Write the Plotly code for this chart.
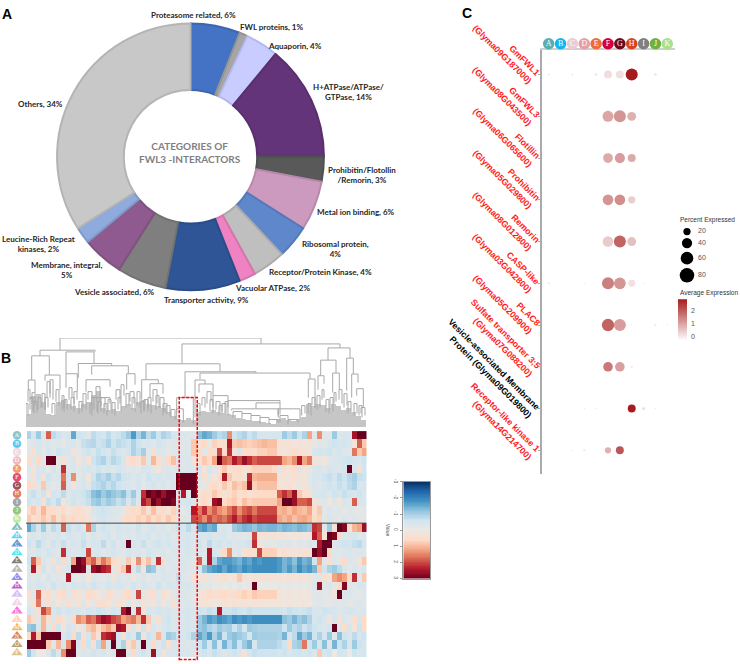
import numpy as np
import plotly.graph_objects as go

# ---------- Panel A ----------
pie_labels = ["Proteasome related, 6%", "FWL proteins, 1%", "Aquaporin, 4%", "H+ATPase/ATPase/<br>GTPase, 14%",
              "Prohibitin/Flotollin<br>/Remorin, 3%", "Metal ion binding, 6%", "Ribosomal protein,<br>4%",
              "Receptor/Protein Kinase, 4%", "Vacuolar ATPase, 2%", "Transporter activity, 9%",
              "Vesicle associated, 6%", "Membrane, integral,<br>5%", "Leucine-Rich Repeat<br>kinases, 2%", "Others, 34%"]
pie_values = [6, 1, 4, 14, 3, 6, 4, 4, 2, 9, 6, 5, 2, 34]
pie_colors = ["#4472c4", "#a5a5a5", "#c9ccff", "#633479", "#595959", "#cc99bf", "#5f87cc", "#bfbfbf", "#ee82c2",
              "#2f5597", "#7f7f7f", "#8e5a8f", "#8faadc", "#c8c8c8"]
pie_edges = ["#3d66b0", "#949494", "#b5b8ee", "#5a2f6e", "#505050", "#b888ac", "#5579b8", "#ababab", "#d675ae",
             "#2a4d88", "#727272", "#805181", "#809ac6", "#b4b4b4"]
pie_label_px = [(193, 12), (271, 24), (295, 43), (348, 90), (362, 173), (356, 210), (335, 247), (320, 271),
                (272, 287), (206, 299), (114, 291), (66, 269), (38, 242), (40, 102)]

# ---------- Panel B ----------
heat_rows = [
 [-12,-6,-14,-4,18,-10,-8,-4,-6,-20, -8,-6,-4,-10,-8,-6,-10,-6,-8,-10, -14,-22,-12,-18,-10,-14,-8,-12,-10,-6, -5,-5,-4,-4,-16,-20,-18,-14,-10,-12, 14,-8,-10,-12,-8,-10,-6,-6,-6,-6, -6,-14,-10,-14,-8,-12,12,-3,14,-4, -3,-14,-4,-6,-5,25,30,30],
 [-2,-4,-6,-3,-5,-3,-4,-2,-5,-6, -3,-9,-10,-11,-8,-9,-12,-8,-10,-9, -8,-12,-8,-5,-6,-3,-7,-5,-3,-4, -4,-4,-4,8,4,6,-2,7,5,5, 24,8,9,8,7,8,9,10,9,9, 3,3,4,2,3,2,3,-2,-4,-3, -6,-8,-6,-7,-5,2,18,8],
 [-3,4,-6,-2,-7,-3,-8,-6,-5,3, -2,-6,-8,-4,-9,-7,-5,-9,-6,-4, -7,-12,-9,-13,-3,4,-5,-4,-2,-3, -4,-4,-4,8,6,-3,5,4,20,5, 22,3,-6,5,6,5,7,7,8,8, 3,2,3,5,3,3,2,-6,-7,-6, -8,-5,-7,-4,-3,16,8,12],
 [5,-4,6,-3,30,30,-2,4,-3,-5, 2,-4,3,-8,-10,-12,-8,-11,-9,-6, 4,6,3,8,-3,10,5,-4,6,9, -5,-4,-5,3,4,8,6,12,30,18, 16,24,20,26,22,18,20,20,20,20, 20,12,10,14,24,12,16,3,-2,2, -3,-5,-6,-7,-8,-6,-5,-8],
 [-4,2,-5,-6,-2,-7,-3,22,-4,-6, -3,-5,-7,-4,-8,-5,-6,-4,-7,-5, -3,-4,-2,-6,-5,-3,2,-4,-5,-3, -5,-4,-5,-4,-5,2,-6,-3,4,8, 3,5,6,3,5,7,7,7,7,6, -3,4,3,5,-4,3,-2,-5,-6,-4, -7,-5,-4,-6,30,-5,4,-7],
 [-2,3,-6,4,-8,-4,-5,16,-6,14, -3,-6,2,-8,-12,-10,-13,-9,-11,-8, -7,-4,-6,-3,-8,-5,-7,-4,-6,-5, 30,30,30,30,-4,4,-3,2,6,24, 8,4,5,3,22,10,11,11,11,11, 3,3,2,4,3,2,-3,-6,-5,-8, -9,-7,-10,-8,-11,-13,-9,-8],
 [6,4,-3,8,-5,-2,-3,18,-5,3, -4,-7,-3,-9,-10,-12,-9,-11,-8,-6, -5,-3,-7,-2,-5,-7,-4,-6,-3,-5, 30,30,30,30,-3,-2,4,6,3,8, 5,9,7,9,26,7,9,9,9,9, 2,3,4,2,-2,3,-3,-5,-4,-6, -8,-6,-9,-7,-10,-12,-5,-6],
 [-6,-9,-4,-8,3,-7,-5,-10,-4,-7, -6,-8,-10,-16,-18,-14,-17,-15,-13,-16, -9,-14,-6,22,30,28,30,26,30,30, -5,24,-3,30,3,5,4,8,6,3, 5,7,4,6,3,5,6,6,6,6, 18,22,18,26,8,5,4,-5,-6,-7, -4,-8,-6,-9,-7,-6,-8,-5],
 [-8,-5,-7,4,-9,-6,-10,2,-4,-8, -5,-7,-9,-13,-15,-11,-14,-12,-9,-11, -6,-10,-4,24,20,30,26,30,30,28, -6,-5,-7,-5,4,6,3,26,28,6, 7,8,5,9,7,8,8,8,8,8, 12,30,30,26,18,18,20,3,-3,-4, 2,-4,3,-5,-4,18,-6,-5],
 [6,8,4,10,6,5,3,6,2,4, 5,3,2,-5,-7,-8,-6,-5,-4,-2, 4,6,5,8,4,9,5,6,3,7, -3,-2,-4,24,16,22,14,18,14,12, 16,20,14,18,20,16,20,20,20,20, 10,11,9,12,10,9,12,4,8,-3, -5,-3,-4,-2,-4,-3,-2,-3],
 [8,4,6,8,5,9,4,7,5,6, 4,5,3,-3,-6,-7,-5,-4,-3,4, 6,5,7,6,8,5,7,4,8,6, -3,-4,-3,20,18,14,20,16,18,16, 20,24,18,22,24,20,22,22,22,22, 12,10,12,9,11,12,10,6,7,-3, -6,-4,-2,-5,-3,-4,-3,-2],
 [-20,-12,-6,-14,-4,-10,-7,18,-9,-5, -8,-4,16,-12,-5,-8,-6,-4,-7,-5, -6,-4,-8,-3,-5,-7,-4,-6,-3,-5, -8,-6,-10,-7,-20,-22,-18,-20,-5,-6, -4,-14,-16,-18,-17,-15,-18,-17,-18,-18, -16,-18,-17,-16,-18,-17,-15,22,20,-4, -14,3,30,28,4,10,12,26],
 [-4,-6,-3,-7,-5,-4,-6,-3,-7,-5, -4,-8,-3,-6,-4,-5,-7,-3,-6,-4, -5,-3,-6,-4,-7,-3,-5,-4,-6,-3, -5,-5,-6,-4,-6,-5,-7,-4,-5,-6, -3,-4,-3,-2,-3,20,2,3,3,3, 2,2,1,2,2,1,2,24,18,3, 30,28,5,-4,-5,-6,-3,-5],
 [-8,-4,-10,-6,-3,-8,-5,-9,-4,-7, -5,-9,-4,-7,-6,-10,-5,-8,-4,-6, 30,-7,-5,-9,-4,-6,-8,-5,-7,-4, -5,-5,-6,-5,-8,-4,-10,-6,-8,-5, -7,-4,-5,-6,-8,22,2,-2,-3,-2, -4,-3,-5,-2,-4,-3,-6,-3,24,30, 30,-4,-6,-8,-7,-9,-10,-6],
 [-5,-3,-6,-4,-7,-5,-3,22,-6,-4, -5,-7,20,-4,-6,-3,-5,-7,-4,-3, -6,-4,-5,-3,-7,-5,-4,-6,-3,-5, -6,-5,-6,-4,-5,-3,24,-6,-4,6, 14,-3,-5,3,5,4,20,7,7,7, 2,4,3,2,3,4,3,30,26,30, 6,-4,-3,-5,-6,-4,-5,-4],
 [-8,18,8,-5,-3,4,-6,6,-4,12, 30,26,14,18,10,16,12,6,4,-3, 8,2,14,5,9,-4,22,4,-5,-3, -4,-5,-4,-3,18,-4,24,-12,-20,-22, -22,-20,-18,-22,-20,-24,-22,-24,-24,-24, -22,-18,-20,-16,-22,-18,-20,-8,12,-3, 4,-4,-3,6,-5,-4,3,8],
 [-4,24,4,-8,-2,-6,3,-4,-6,30, 30,28,-4,26,28,24,22,-3,4,8, 22,-4,-10,3,-16,-14,-4,-6,-3,-5, -4,-5,-4,-3,-6,-16,-20,-22,-24,-20, -24,-22,-20,-24,-22,-24,-24,-24,-24,-24, -22,-18,-22,-18,-24,-20,-22,-18,8,-8, -12,-14,-10,-6,-3,-5,-4,-6],
 [-4,-3,-5,-2,-6,-3,-4,-2,24,-3, -2,-4,2,-5,-3,-2,-4,3,-5,-3, -4,2,-3,-5,-2,-4,-3,-6,-5,-3, -9,-4,-3,4,2,3,-2,2,3,4, 2,3,8,3,2,3,3,3,3,3, 3,2,3,2,3,2,3,-3,-4,4, 2,12,14,12,6,22,-3,8],
 [-6,-4,-7,-5,-3,-8,-4,-6,-3,-7, -5,-6,-4,-8,-5,-3,-7,-4,-6,-5, -3,-7,-4,-6,-5,-3,-8,-4,-6,-5, -6,-5,-6,-4,-4,-2,-3,-1,-2,-1, -2,-1,-3,-1,-2,30,-1,-1,-1,-1, -2,-1,-2,-1,-2,-1,-2,-4,26,-3, -5,-2,6,28,-4,-3,-6,-5],
 [4,-3,18,3,5,-2,4,6,-3,5, 3,-2,6,4,2,-3,5,3,-2,4, 6,-3,20,-2,3,5,-3,4,2,-3, -5,-5,-4,-3,2,4,6,4,5,6, 4,5,6,7,6,8,7,7,7,7, 2,1,2,1,2,1,2,-3,-4,-2, -3,2,30,-4,-5,-3,-2,-4],
 [-2,3,16,-3,4,-4,2,-3,4,-2, 3,-4,2,-3,4,5,3,-2,4,3, -4,2,-3,4,-2,3,-4,2,-3,4, -4,-4,-5,-3,2,3,2,1,2,3, 2,3,2,3,2,3,2,2,2,2, 2,1,2,1,1,2,1,-3,-4,-3, -2,-4,-3,-4,-2,-3,-5,-3],
 [-6,-4,4,20,14,-5,-8,-4,-7,-5, -6,-4,-7,-5,-8,-6,-4,-7,-5,24, 30,-4,22,3,-6,-4,-7,-5,-6,-4, -5,-5,-6,-5,-8,-7,-9,-8,24,-8, -8,-9,-8,-7,-9,-8,-8,-8,-8,-8, -8,-7,-9,-8,-7,-8,-9,-6,-5,-8, -7,-6,-4,-5,-7,-6,-4,-5],
 [8,5,-3,10,4,-5,6,3,-4,6, 14,12,18,16,22,26,24,20,18,12, 14,16,10,22,8,-3,4,-6,-8,-4, -5,-5,-6,-5,-14,-18,-22,-20,-24,-22, -20,-24,-22,-24,-22,-24,-24,-24,-24,-24, -24,-16,-14,-18,-14,-16,-12,-6,-8,-5, 3,-6,4,-5,-3,4,-6,6],
 [-14,-16,-5,10,-4,6,-8,3,-6,-4, 2,-3,8,10,6,9,12,8,26,24, 4,-5,3,-8,4,-6,-3,-5,-7,-4, -6,-5,-6,-5,-14,-16,-12,-10,-14,-12, -13,-8,-12,-6,-14,-13,-12,-12,-12,-12, -12,-8,-14,-10,-12,-8,-10,-8,-6,-5, -7,30,-4,5,-6,3,-8,6],
 [6,24,8,30,30,30,30,-5,-8,6, -10,4,-6,8,3,22,24,26,-6,4, -8,-4,-14,3,-8,-5,10,-6,-14,-12, -8,-5,-8,-12,-20,-16,-22,-12,-18,-8, -14,-16,-14,-12,-6,-14,-13,-13,-13,-13, -12,-18,-6,-10,-20,-14,-18,-8,-12,-6, -14,-4,-16,-8,-5,-10,-6,-8],
 [30,30,30,30,8,-4,10,-6,14,28, -5,6,-8,4,-10,12,-5,30,-6,-12, 4,8,-4,30,-5,6,-3,-8,4,-6, -5,-5,-4,-6,-8,-14,-6,-16,-5,-18, -10,-16,-8,-14,-18,-6,-12,-12,-12,-12, -10,-8,6,-12,-14,16,-8,-14,-6,-16, -4,-18,-8,-12,-5,-14,-8,-6],
 [-14,-8,0,0,-4,-10,-5,14,30,30, -3,-6,-4,-8,-5,-7,-3,-6,30,30, -4,6,-5,-8,-4,26,-7,4,-6,-5, -6,-5,-6,-4,-6,-8,-5,-9,-7,-4, -6,-8,-5,3,-7,-9,-8,-8,-8,-8, -6,-8,-5,-7,-8,-6,-8,-5,8,-6, -8,0,-7,-6,0,-8,-5,-7],
]
bad = [(i, len(r)) for i, r in enumerate(heat_rows) if len(r) != 68]
assert not bad, bad

row_letters = list("ABCDEFGHIJK") + list("ABCDEFGHIJKLMNOP")
row_colors = ["#5aaeb0", "#12b5f0", "#e8cdd5", "#e59ea6", "#ec6c3b", "#d5003a", "#6b0a1e", "#d9431e", "#7f7f7f", "#6fb043", "#a9e08a",
              "#4a9fa5", "#1fc0f0", "#1f6fc0", "#00e0f0", "#444444", "#999999", "#6a5cf0", "#a020b0", "#c8a8f0", "#e8c8e0",
              "#ff33cc", "#f8c8a0", "#f39a1a", "#c0541a", "#9c7a3c", "#d0a860"]
row_symbols = ["circle"] * 11 + ["triangle-up"] * 16

leaf_heights = [14, 32, 34, 26, 14, 13, 26, 28, 24, 22, 20, 24, 26, 33, 37, 20, 18, 19, 17, 22, 24, 20, 26, 28, 24, 23,
                22, 20, 16, 12, 9, 8, 10, 8, 16, 17, 16, 18, 16, 15, 14, 13, 10, 9, 8, 7, 6, 5, 4, 3, 9, 10, 8, 6, 9, 11,
                24, 22, 24, 23, 20, 24, 22, 18, 20, 16, 12, 8]
# dendrogram links: left leaf, right leaf, top height, height of left child, height of right child
link_left =  [34, 156, 120, 159, 174, 169, 173, 14, 5.7, 40, 52.3, 65.7, 2.3, 19, 24, 40, 60, 100.7, 65.7, 115.7, 124, 150.7, 150.7,
              294.7, 302, 320.7, 292, 306.7, 325.7, 330.7, 282.3, 187, 202, 230, 205.7, 207, 216, 225, 234, 243, 252, 254, 262, 275.7,
              2, 6, 12, 21, 30, 43, 48, 62, 70, 75, 90, 95, 104, 118, 127, 134, 140, 145, 176, 181, 190, 196, 286, 296, 308, 313, 335,
              0, 4, 8, 16, 19, 26, 36, 38, 45, 53, 57, 64, 68, 72, 78, 82, 86, 92, 100, 106, 111, 115, 122, 130, 137, 171, 184, 193, 199, 282, 291, 300, 304, 318, 322, 328, 333]
link_right = [235, 314, 194, 230, 284, 179, 187, 69, 23.3, 68, 85.7, 102.3, 9, 34, 27, 51.3, 84, 109, 84, 132.3, 137, 167.3, 157.3,
              310, 324, 327.3, 298, 313.3, 332, 337.3, 289, 202, 254, 254, 252.3, 216, 225, 234, 243, 252, 274, 262, 272, 279,
              4, 9, 15, 24, 33, 46, 51, 66, 74, 79, 94, 98, 108, 122, 131, 138, 144, 149, 179, 185, 194, 200, 289, 298, 310, 316, 339,
              2, 7, 11, 19, 22, 29, 38, 41, 48, 56, 60, 66, 71, 75, 81, 85, 89, 95, 103, 109, 114, 118, 125, 133, 141, 174, 187, 196, 202, 285, 294, 303, 307, 321, 325, 331, 336]
link_top =   [90, 84, 64, 56, 54.7, 47.7, 43.7, 77.7, 72, 76, 64.3, 62, 47.7, 52.7, 48, 54, 48, 54, 30, 48, 44, 30, 18.7,
              67.7, 80, 69.7, 52, 54.7, 53.7, 39, 48.7, 32, 27, 24.7, 18.7, 16, 14, 12, 10, 8, 18.7, 12, 8, 22,
              38, 35, 30, 46, 38, 40, 36, 36, 41, 30, 38, 43, 36, 28, 38, 30, 22, 18, 30, 36, 26, 24, 30, 38, 35, 38, 20,
              24, 30, 26, 34, 30, 24, 32, 28, 30, 26, 34, 24, 30, 26, 24, 28, 25, 30, 34, 30, 36, 26, 30, 32, 24, 24, 28, 22, 26, 24, 32, 28, 30, 34, 26, 24, 22]
link_lh =    [78, 64, 48, 30, 48.7, 10, 35, 72, 47.7, 54, 50, 53, 38, 47, 30, 40, 36, 38, 22, 28, 30, 15, 8,
              52, 67.7, 37, 38, 35, 30, 32, 30, 20, 20, 19, 17, 10, 8, 6, 4, 3, 12, 5, 3, 12,
              26, 24, 18, 30, 26, 28, 24, 28, 30, 22, 28, 30, 26, 18, 26, 20, 14, 10, 22, 24, 18, 16, 22, 28, 24, 28, 14,
              14, 18, 14, 20, 18, 14, 18, 16, 18, 14, 20, 14, 18, 14, 14, 16, 14, 18, 20, 18, 22, 14, 16, 18, 12, 14, 16, 12, 14, 14, 18, 16, 18, 20, 14, 12, 12]
link_rh =    [84, 80, 56, 54.7, 48.7, 43.7, 32, 76, 52.7, 64.3, 62, 54, 35, 38, 28, 36, 41, 43, 24, 44, 34, 3, 5,
              54.7, 69.7, 53.7, 44, 38, 45, 20, 20, 26, 24.7, 13, 10, 14, 12, 10, 8, 5, 8, 8, 5, 14,
              28, 22, 20, 34, 22, 30, 28, 30, 26, 20, 24, 32, 24, 20, 24, 16, 12, 8, 20, 26, 16, 14, 20, 30, 26, 24, 12,
              12, 16, 15, 18, 20, 12, 20, 18, 16, 16, 18, 12, 16, 16, 12, 18, 12, 16, 22, 16, 20, 16, 14, 20, 14, 12, 14, 14, 12, 12, 20, 14, 16, 22, 16, 14, 10]

# ---------- Panel C ----------
dot_letters = list("ABCDEFGHIJK")
dot_colors = ["#5aaeb0", "#12b5f0", "#e8cdd5", "#e59ea6", "#ec6c3b", "#d5003a", "#6b0a1e", "#d9431e", "#7f7f7f", "#6fb043", "#a9e08a"]
gene_labels = ["GmFWL1<br>(Glyma09G187000)", "GmFWL3<br>(Glyma08G043500)", "Flotillin<br>(Glyma06G065600)",
               "Prohibitin<br>(Glyma05G029800)", "Remorin<br>(Glyma08G012800)", "CASP-like<br>(Glyma03G042800)",
               "PLAC8<br>(Glyma05G209900)", "Sulfate transporter 3;5<br>(Glyma07G088200)",
               "Vesicle-associated Membrane<br>Protein (Glyma09G019800)", "Receptor-like kinase 1<br>(Glyma14G214700)"]
gene_colors = ["#ff1a1a"] * 8 + ["#000000", "#ff1a1a"]
pct_matrix = [
 [2, 0, 2, 0, 3, 24, 24, 55, 0, 3, 0],
 [0, 0, 0, 0, 0, 46, 55, 30, 0, 0, 0],
 [0, 0, 0, 0, 0, 36, 39, 24, 0, 0, 0],
 [0, 0, 0, 0, 0, 43, 43, 20, 0, 0, 0],
 [0, 0, 0, 0, 0, 42, 55, 30, 0, 0, 0],
 [2, 0, 0, 1, 0, 55, 52, 18, 1, 0, 0],
 [0, 0, 0, 0, 0, 58, 55, 1, 0, 2, 1],
 [0, 0, 0, 0, 0, 35, 35, 2, 0, 0, 0],
 [0, 0, 0, 1, 1, 0, 0, 24, 4, 1, 0],
 [0, 0, 1, 2, 0, 15, 24, 0, 0, 0, 0],
]
avg_matrix = [
 [.02, 0, .02, 0, .08, .18, .15, 2.9, 0, .1, 0],
 [0, 0, 0, 0, 0, .95, 1.2, .8, 0, 0, 0],
 [0, 0, 0, 0, 0, .9, 1.1, .9, 0, 0, 0],
 [0, 0, 0, 0, 0, 1.2, 1.3, .4, 0, 0, 0],
 [0, 0, 0, 0, 0, .45, 1.9, .6, 0, 0, 0],
 [.03, 0, 0, .02, 0, 1.5, 1.2, .12, .02, 0, 0],
 [0, 0, 0, 0, 0, 1.9, 1.1, .03, 0, .05, .03],
 [0, 0, 0, 0, 0, 1.6, 1.05, .05, 0, 0, 0],
 [0, 0, 0, .03, .03, 0, 0, 2.9, .15, .05, 0],
 [0, 0, .03, .05, 0, .8, 2.1, 0, 0, 0, 0],
]
legend_percent = [20, 40, 60, 80]
legend_rows = [0, 11.5, 26.7, 44]

W, H = 740, 664
def dx(a, b): return [a / W, b / W]
def dy(top, bottom): return [1 - bottom / H, 1 - top / H]
def blank(**kw):
    d = dict(visible=True, showgrid=False, zeroline=False, showticklabels=False, ticks="", showline=False, fixedrange=True)
    d.update(kw)
    return d

SANS = "Liberation Sans"
LABEL = "Lato"
RDBU = [[0, "#053061"], [.1, "#2166ac"], [.2, "#4393c3"], [.3, "#92c5de"], [.4, "#d1e5f0"], [.5, "#ece8e4"],
        [.6, "#fddbc7"], [.7, "#f4a582"], [.8, "#d6604d"], [.9, "#b2182b"], [1, "#67001f"]]
DOTS = [[0, "#ffffff"], [1, "#a51c1c"]]

fig = go.Figure()
fig.add_trace(go.Pie(values=pie_values, labels=pie_labels, sort=False, direction="clockwise", rotation=0, hole=0.5,
                     textinfo="none", hoverinfo="skip", showlegend=False, domain=dict(x=dx(56, 325), y=dy(20.5, 289)),
                     marker=dict(colors=pie_colors, line=dict(color=pie_edges, width=2))))

# dendrogram
lx, ly = [], []
for a, b, t, hl, hr in zip(link_left, link_right, link_top, link_lh, link_rh):
    lx += [a, a, b, b, None]
    ly += [hl, t, t, hr, None]
fig.add_trace(go.Bar(x=[2.5 + 5 * i for i in range(len(leaf_heights))], y=leaf_heights, width=5,
                     marker=dict(color="#c6c6c6", line=dict(width=0)), xaxis="x", yaxis="y", hoverinfo="skip", showlegend=False))
fig.add_trace(go.Scatter(x=lx, y=ly, mode="lines", line=dict(color="#a8a8a8", width=1), xaxis="x", yaxis="y",
                         hoverinfo="skip", showlegend=False))

# heatmap
raw = np.array(heat_rows) / 10
z = np.where(raw < 0, raw * 0.78, raw).tolist()
fig.add_trace(go.Heatmap(z=z, zmin=-3, zmax=3, colorscale=RDBU, showscale=False, xaxis="x2", yaxis="y2", hoverinfo="skip"))

# row markers
fig.add_trace(go.Scatter(x=[0] * 27, y=list(range(27)), mode="markers+text", text=row_letters, textposition="middle center",
                         textfont=dict(family="Liberation Serif", size=6, color="white"),
                         marker=dict(symbol=row_symbols, color=row_colors, size=[8.5] * 11 + [10] * 16, line=dict(width=0)),
                         xaxis="x3", yaxis="y3", hoverinfo="skip", showlegend=False))

# value colour bar
vals = np.linspace(-3, 3, 121)
fig.add_trace(go.Heatmap(z=[[v] for v in vals], y=vals, x=[0], zmin=-3, zmax=3, colorscale=RDBU, showscale=False,
                         xaxis="x4", yaxis="y4", hoverinfo="skip"))

# dot plot
sx, sy, sp, sa = [], [], [], []
for g, pr, ar in zip(gene_labels, pct_matrix, avg_matrix):
    for l, p, a in zip(dot_letters, pr, ar):
        if p > 0:
            sx.append(l); sy.append(g); sp.append(p); sa.append(a)
SIZEREF = 0.76
fig.add_trace(go.Scatter(x=sx, y=sy, mode="markers", xaxis="x5", yaxis="y5", hoverinfo="skip", showlegend=False,
                         marker=dict(size=sp, sizemode="area", sizeref=SIZEREF, sizemin=0, color=sa, cmin=-0.3, cmax=2.9,
                                     colorscale=DOTS, opacity=1, line=dict(width=0))))
# header circles
fig.add_trace(go.Scatter(x=dot_letters, y=[0] * 11, mode="markers+text", text=dot_letters, textposition="middle center",
                         textfont=dict(family="Liberation Serif", size=8, color="white"),
                         marker=dict(color=dot_colors, size=11.5, line=dict(width=0)), cliponaxis=False,
                         xaxis="x6", yaxis="y6", hoverinfo="skip", showlegend=False))
# size legend
fig.add_trace(go.Scatter(x=[0] * 4, y=legend_rows, mode="markers", xaxis="x7", yaxis="y7", hoverinfo="skip", showlegend=False,
                         marker=dict(size=legend_percent, sizemode="area", sizeref=SIZEREF, color="black", opacity=1, line=dict(width=0))))
fig.add_trace(go.Scatter(x=[11] * 4, y=legend_rows, mode="text", text=[str(p) for p in legend_percent], textposition="middle right",
                         textfont=dict(family=SANS, size=7, color="#555555"), xaxis="x7", yaxis="y7", hoverinfo="skip", showlegend=False))
# average expression colour bar
avals = np.linspace(-0.3, 2.9, 60)
fig.add_trace(go.Heatmap(z=[[v] for v in avals], y=avals, x=[0], zmin=-0.3, zmax=2.9, colorscale=DOTS, showscale=False,
                         xaxis="x8", yaxis="y8", hoverinfo="skip"))

annots = []
def note(px, py, text, size=8, color="#1a1a1a", family=LABEL, bold=False, xanchor="center", yanchor="middle", **kw):
    annots.append(dict(xref="paper", yref="paper", x=px / W, y=1 - py / H, text=f"<b>{text}</b>" if bold else text, showarrow=False,
                       xanchor=xanchor, yanchor=yanchor, font=dict(family=family, size=size, color=color), **kw))
for t, (px, py) in zip(pie_labels, pie_label_px):
    note(px, py, t, size=8, bold=True, align="center", color="#262626")
note(190, 150, "CATEGORIES OF<br>FWL3 -INTERACTORS", size=10, color="#7f7f7f", bold=True, align="center")
note(7, 11, "A", size=14, color="black", family=SANS, bold=True)
note(6, 357, "B", size=14, color="black", family=SANS, bold=True)
note(467, 10, "C", size=14, color="black", family=SANS, bold=True)
note(678, 218, "Percent Expressed", size=6.5, color="#333333", family=SANS, xanchor="left")
note(678, 291.5, "Average Expression", size=6.5, color="#333333", family=SANS, xanchor="left")
note(388, 530, "Value", size=5, color="#555555", family=SANS, textangle=90)
for g, c in zip(gene_labels, gene_colors):
    annots.append(dict(xref="paper", yref="y5", x=545 / W, y=g, text=f"<b>{g}</b>", showarrow=False, xanchor="right", yanchor="bottom",
                       align="right", textangle=45, yshift=-14, font=dict(family=SANS, size=8.8, color=c)))

shapes = [
    dict(type="rect", xref="x2", yref="paper", x0=30.1, x1=33.7, y0=1 - 660.5 / H, y1=1 - 397 / H,
         line=dict(color="#ff0000", width=1.5, dash="3px,1.5px"), fillcolor="rgba(0,0,0,0)"),
    dict(type="line", xref="x2", yref="y2", x0=-0.5, x1=67.5, y0=10.5, y1=10.5, line=dict(color="#444444", width=1)),
]

XA, XB = (541.5 - 548.7) / 11.86, (675 - 548.7) / 11.86
YA, YB = (47 - 72) / 42, (474 - 72) / 42
fig.update_layout(
    width=W, height=H, margin=dict(l=0, r=0, t=0, b=0), paper_bgcolor="white", plot_bgcolor="white",
    font=dict(family=SANS), showlegend=False, bargap=0, annotations=annots, shapes=shapes,
    xaxis=blank(domain=dx(26, 367), range=[0, 341]),
    yaxis=blank(domain=dy(337, 427), range=[0, 90]),
    xaxis2=blank(domain=dx(26, 366.5), range=[-0.5, 67.5]),
    yaxis2=blank(domain=dy(430.7, 658), range=[26.5, -0.5], anchor="x2"),
    xaxis3=blank(domain=dx(7, 27), range=[-1, 1]),
    yaxis3=blank(domain=dy(430.7, 658), range=[26.5, -0.5], anchor="x3"),
    xaxis4=blank(domain=dx(403.3, 430), range=[-0.5, 0.5], anchor="y4", showline=True, linecolor="#999999", mirror=True, linewidth=1),
    yaxis4=blank(domain=dy(481.7, 579), range=[-3, 3], anchor="x4", side="left", showticklabels=True, ticks="outside", ticklen=2,
                 tickcolor="#999999", tickvals=[-3, -2, -1, 0, 1, 2, 3], ticktext=["-3", "-2", "-1", "0", "1", "2", "3"], tickangle=90,
                 tickfont=dict(size=5, color="#555555"), showline=True, linecolor="#999999", mirror=True, linewidth=1, autorange=False),
    xaxis5=blank(domain=dx(541.5, 675), type="category", categoryorder="array", categoryarray=dot_letters, range=[XA, XB], anchor="y5",
                 side="top", showline=True, linecolor="#cfcfcf", linewidth=1.5, ticks=""),
    yaxis5=blank(domain=dy(47, 474), type="category", categoryorder="array", categoryarray=gene_labels, range=[YB, YA], anchor="x5",
                 showline=True, linecolor="#aaaaaa", linewidth=1.5, ticks="outside", ticklen=2, tickcolor="#aaaaaa"),
    xaxis6=blank(domain=dx(541.5, 675), type="category", categoryorder="array", categoryarray=dot_letters, range=[XA, XB], anchor="y6"),
    yaxis6=blank(domain=dy(35, 47), range=[-1, 1], anchor="x6"),
    xaxis7=blank(domain=dx(677, 720), range=[-10, 33], anchor="y7"),
    yaxis7=blank(domain=dy(222, 282), range=[52, -8], anchor="x7"),
    xaxis8=blank(domain=dx(678, 687), range=[-0.5, 0.5], anchor="y8"),
    yaxis8=blank(domain=dy(298, 340), range=[-0.3, 2.9], anchor="x8", side="right", showticklabels=True, tickvals=[0, 1, 2],
                 ticks="", tickfont=dict(size=7, color="#555555"), ticklabelstandoff=3),
)
fig.layout.yaxis4.range = [3, -3]
fig.write_html("out.html", config={"displayModeBar": False}, post_script="document.body.style.margin='0';")
